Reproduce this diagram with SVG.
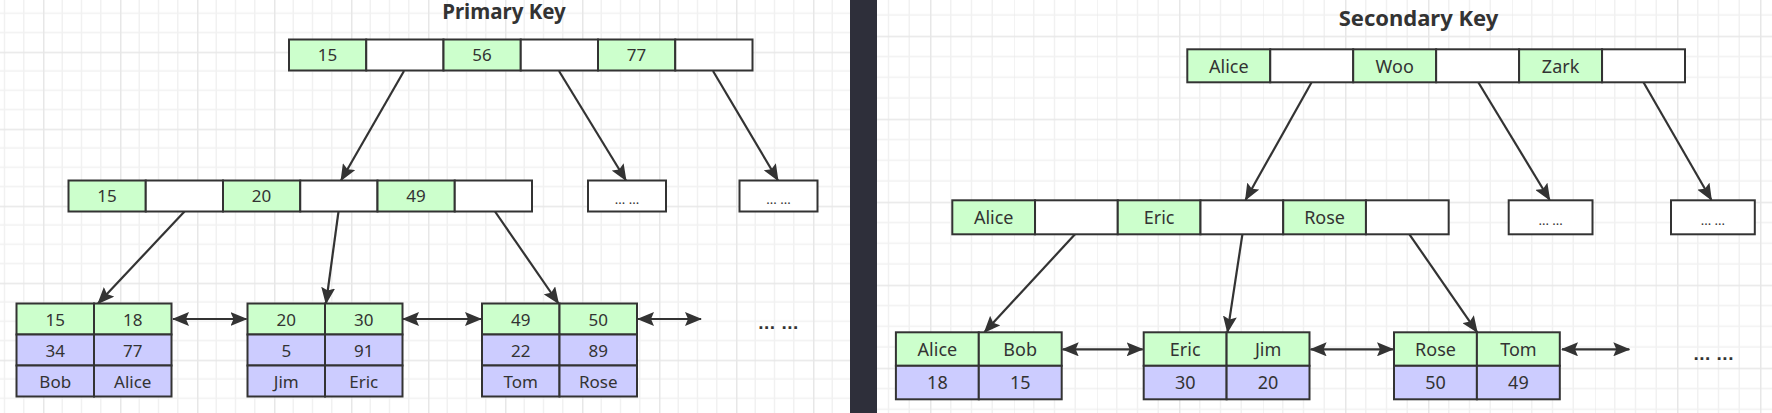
<svg xmlns="http://www.w3.org/2000/svg" width="1772" height="413" viewBox="0 0 1772 413">
<style>
.g{fill:#ccffcc;stroke:#333;stroke-width:2}
.w{fill:#ffffff;stroke:#333;stroke-width:2}
.p{fill:#ccccff;stroke:#333;stroke-width:2}
.t{font-family:"Noto Sans","Open Sans",sans-serif;font-size:17px;fill:#333;text-anchor:middle}
.t2{font-family:"Noto Sans","Open Sans",sans-serif;font-size:18px;fill:#333;text-anchor:middle}
.s{font-family:"Noto Sans","Open Sans",sans-serif;font-size:13px;fill:#333;text-anchor:middle}
.title{font-family:"Noto Sans","Open Sans",sans-serif;font-weight:bold;fill:#333;text-anchor:middle}
.dots{font-family:"Liberation Sans",sans-serif;font-weight:bold;font-size:19px;fill:#333;text-anchor:middle;letter-spacing:0.5px}
.c{stroke:#333;stroke-width:2.2;fill:none}
.a{marker-end:url(#ah)}
.d{marker-start:url(#ah);marker-end:url(#ah)}
</style>
<defs>
<marker id="ah" viewBox="0 0 17 14" refX="16" refY="7" markerWidth="17" markerHeight="14" markerUnits="userSpaceOnUse" orient="auto-start-reverse">
<path d="M0,0 L17,7 L0,14 L3,7 Z" fill="#333"/>
</marker>
<pattern id="gridL" x="43" y="51.7" width="77" height="77" patternUnits="userSpaceOnUse">
<path d="M19.25,0V77M38.5,0V77M57.75,0V77M0,19.25H77M0,38.5H77M0,57.75H77" stroke="#f1f1f1" stroke-width="1.5" fill="none"/>
<path d="M0.75,0V77M0,0.75H77" stroke="#e7e7e7" stroke-width="1.5" fill="none"/>
</pattern>
<pattern id="gridR" x="930" y="35.7" width="83" height="83" patternUnits="userSpaceOnUse">
<path d="M20.75,0V83M41.5,0V83M62.25,0V83M0,20.75H83M0,41.5H83M0,62.25H83" stroke="#f1f1f1" stroke-width="1.5" fill="none"/>
<path d="M0.75,0V83M0,0.75H83" stroke="#e7e7e7" stroke-width="1.5" fill="none"/>
</pattern>
</defs>
<rect x="0" y="0" width="850" height="413" fill="#ffffff"/>
<rect x="0" y="0" width="850" height="413" fill="url(#gridL)"/>
<rect x="877" y="0" width="895" height="413" fill="#ffffff"/>
<rect x="877" y="0" width="895" height="413" fill="url(#gridR)"/>
<rect x="850" y="0" width="27" height="413" fill="#2e2f3a"/>

<text class="title" x="504" y="18.5" font-size="20.5">Primary Key</text>
<text class="title" x="1418.5" y="26" font-size="22">Secondary Key</text>

<g id="connectors">
<line class="c a" x1="404" y1="71" x2="341" y2="180.5"/>
<line class="c a" x1="559" y1="71" x2="626" y2="180.5"/>
<line class="c a" x1="713" y1="71" x2="778" y2="180.5"/>
<line class="c a" x1="184.5" y1="211.5" x2="98" y2="303.5"/>
<line class="c a" x1="338.5" y1="211.5" x2="326" y2="303.5"/>
<line class="c a" x1="495" y1="211.5" x2="558.5" y2="303.5"/>
<line class="c d" x1="173" y1="319" x2="246.5" y2="319"/>
<line class="c d" x1="403" y1="319" x2="481" y2="319"/>
<line class="c d" x1="638" y1="319" x2="701" y2="319"/>
<line class="c a" x1="1311.5" y1="82.5" x2="1245.5" y2="200"/>
<line class="c a" x1="1478.4" y1="82.5" x2="1549.7" y2="200"/>
<line class="c a" x1="1643.6" y1="82.5" x2="1711.4" y2="200"/>
<line class="c a" x1="1075" y1="234.3" x2="984.4" y2="332.3"/>
<line class="c a" x1="1242.4" y1="234.3" x2="1227.5" y2="332.3"/>
<line class="c a" x1="1409.4" y1="234.3" x2="1477.2" y2="332.3"/>
<line class="c d" x1="1062.7" y1="349.3" x2="1142.7" y2="349.3"/>
<line class="c d" x1="1310.6" y1="349.3" x2="1393" y2="349.3"/>
<line class="c d" x1="1562" y1="349.3" x2="1629.3" y2="349.3"/>
</g>

<g id="p-root">
<rect class="g" x="289" y="39.5" width="77.25" height="31"/>
<rect class="w" x="366.25" y="39.5" width="77.25" height="31"/>
<rect class="g" x="443.5" y="39.5" width="77.25" height="31"/>
<rect class="w" x="520.75" y="39.5" width="77.25" height="31"/>
<rect class="g" x="598" y="39.5" width="77.25" height="31"/>
<rect class="w" x="675.25" y="39.5" width="77.25" height="31"/>
<text class="t" x="327.6" y="61">15</text>
<text class="t" x="482.1" y="61">56</text>
<text class="t" x="636.6" y="61">77</text>
</g>

<g id="p-mid">
<rect class="g" x="68.5" y="180.5" width="77.25" height="31"/>
<rect class="w" x="145.75" y="180.5" width="77.25" height="31"/>
<rect class="g" x="223" y="180.5" width="77.25" height="31"/>
<rect class="w" x="300.25" y="180.5" width="77.25" height="31"/>
<rect class="g" x="377.5" y="180.5" width="77.25" height="31"/>
<rect class="w" x="454.75" y="180.5" width="77.25" height="31"/>
<text class="t" x="107.1" y="202">15</text>
<text class="t" x="261.6" y="202">20</text>
<text class="t" x="416.1" y="202">49</text>
</g>

<g id="p-box1">
<rect class="w" x="588" y="180.5" width="78" height="31"/>
<text class="s" x="627" y="204">... ...</text>
</g>
<g id="p-box2">
<rect class="w" x="739.5" y="180.5" width="78" height="31"/>
<text class="s" x="778.5" y="204">... ...</text>
</g>

<g id="p-leaf1">
<rect class="g" x="16.5" y="303.5" width="77.5" height="31"/>
<rect class="g" x="94" y="303.5" width="77.5" height="31"/>
<rect class="p" x="16.5" y="334.5" width="77.5" height="31"/>
<rect class="p" x="94" y="334.5" width="77.5" height="31"/>
<rect class="p" x="16.5" y="365.5" width="77.5" height="31"/>
<rect class="p" x="94" y="365.5" width="77.5" height="31"/>
<text class="t" x="55.25" y="325.5">15</text>
<text class="t" x="132.75" y="325.5">18</text>
<text class="t" x="55.25" y="356.5">34</text>
<text class="t" x="132.75" y="356.5">77</text>
<text class="t" x="55.25" y="387.5">Bob</text>
<text class="t" x="132.75" y="387.5">Alice</text>
</g>

<g id="p-leaf2">
<rect class="g" x="247.5" y="303.5" width="77.5" height="31"/>
<rect class="g" x="325" y="303.5" width="77.5" height="31"/>
<rect class="p" x="247.5" y="334.5" width="77.5" height="31"/>
<rect class="p" x="325" y="334.5" width="77.5" height="31"/>
<rect class="p" x="247.5" y="365.5" width="77.5" height="31"/>
<rect class="p" x="325" y="365.5" width="77.5" height="31"/>
<text class="t" x="286.25" y="325.5">20</text>
<text class="t" x="363.75" y="325.5">30</text>
<text class="t" x="286.25" y="356.5">5</text>
<text class="t" x="363.75" y="356.5">91</text>
<text class="t" x="286.25" y="387.5">Jim</text>
<text class="t" x="363.75" y="387.5">Eric</text>
</g>

<g id="p-leaf3">
<rect class="g" x="482" y="303.5" width="77.5" height="31"/>
<rect class="g" x="559.5" y="303.5" width="77.5" height="31"/>
<rect class="p" x="482" y="334.5" width="77.5" height="31"/>
<rect class="p" x="559.5" y="334.5" width="77.5" height="31"/>
<rect class="p" x="482" y="365.5" width="77.5" height="31"/>
<rect class="p" x="559.5" y="365.5" width="77.5" height="31"/>
<text class="t" x="520.75" y="325.5">49</text>
<text class="t" x="598.25" y="325.5">50</text>
<text class="t" x="520.75" y="356.5">22</text>
<text class="t" x="598.25" y="356.5">89</text>
<text class="t" x="520.75" y="387.5">Tom</text>
<text class="t" x="598.25" y="387.5">Rose</text>
</g>

<g id="p-more">
<text class="dots" x="778.5" y="329">... ...</text>
</g>

<g id="s-root">
<rect class="g" x="1187.3" y="49.3" width="82.95" height="33"/>
<rect class="w" x="1270.25" y="49.3" width="82.95" height="33"/>
<rect class="g" x="1353.2" y="49.3" width="82.95" height="33"/>
<rect class="w" x="1436.15" y="49.3" width="82.95" height="33"/>
<rect class="g" x="1519.1" y="49.3" width="82.95" height="33"/>
<rect class="w" x="1602.05" y="49.3" width="82.95" height="33"/>
<text class="t2" x="1228.8" y="72.5">Alice</text>
<text class="t2" x="1394.7" y="72.5">Woo</text>
<text class="t2" x="1560.6" y="72.5">Zark</text>
</g>

<g id="s-mid">
<rect class="g" x="952.3" y="200.3" width="82.73" height="34"/>
<rect class="w" x="1035.03" y="200.3" width="82.73" height="34"/>
<rect class="g" x="1117.76" y="200.3" width="82.73" height="34"/>
<rect class="w" x="1200.49" y="200.3" width="82.73" height="34"/>
<rect class="g" x="1283.22" y="200.3" width="82.73" height="34"/>
<rect class="w" x="1365.95" y="200.3" width="82.73" height="34"/>
<text class="t2" x="993.7" y="223.8">Alice</text>
<text class="t2" x="1159.1" y="223.8">Eric</text>
<text class="t2" x="1324.6" y="223.8">Rose</text>
</g>

<g id="s-box1">
<rect class="w" x="1508.7" y="200.3" width="83.8" height="34"/>
<text class="s" x="1550.6" y="225">... ...</text>
</g>
<g id="s-box2">
<rect class="w" x="1671" y="200.3" width="83.8" height="34"/>
<text class="s" x="1712.9" y="225">... ...</text>
</g>

<g id="s-leaf1">
<rect class="g" x="895.9" y="332.3" width="82.9" height="33.5"/>
<rect class="g" x="978.8" y="332.3" width="82.9" height="33.5"/>
<rect class="p" x="895.9" y="365.8" width="82.9" height="33.5"/>
<rect class="p" x="978.8" y="365.8" width="82.9" height="33.5"/>
<text class="t2" x="937.4" y="355.6">Alice</text>
<text class="t2" x="1020.2" y="355.6">Bob</text>
<text class="t2" x="937.4" y="389">18</text>
<text class="t2" x="1020.2" y="389">15</text>
</g>

<g id="s-leaf2">
<rect class="g" x="1143.7" y="332.3" width="82.9" height="33.5"/>
<rect class="g" x="1226.6" y="332.3" width="82.9" height="33.5"/>
<rect class="p" x="1143.7" y="365.8" width="82.9" height="33.5"/>
<rect class="p" x="1226.6" y="365.8" width="82.9" height="33.5"/>
<text class="t2" x="1185.2" y="355.6">Eric</text>
<text class="t2" x="1268.1" y="355.6">Jim</text>
<text class="t2" x="1185.2" y="389">30</text>
<text class="t2" x="1268.1" y="389">20</text>
</g>

<g id="s-leaf3">
<rect class="g" x="1394" y="332.3" width="82.9" height="33.5"/>
<rect class="g" x="1476.9" y="332.3" width="82.9" height="33.5"/>
<rect class="p" x="1394" y="365.8" width="82.9" height="33.5"/>
<rect class="p" x="1476.9" y="365.8" width="82.9" height="33.5"/>
<text class="t2" x="1435.5" y="355.6">Rose</text>
<text class="t2" x="1518.4" y="355.6">Tom</text>
<text class="t2" x="1435.5" y="389">50</text>
<text class="t2" x="1518.4" y="389">49</text>
</g>

<g id="s-more">
<text class="dots" x="1713.7" y="360">... ...</text>
</g>
</svg>
